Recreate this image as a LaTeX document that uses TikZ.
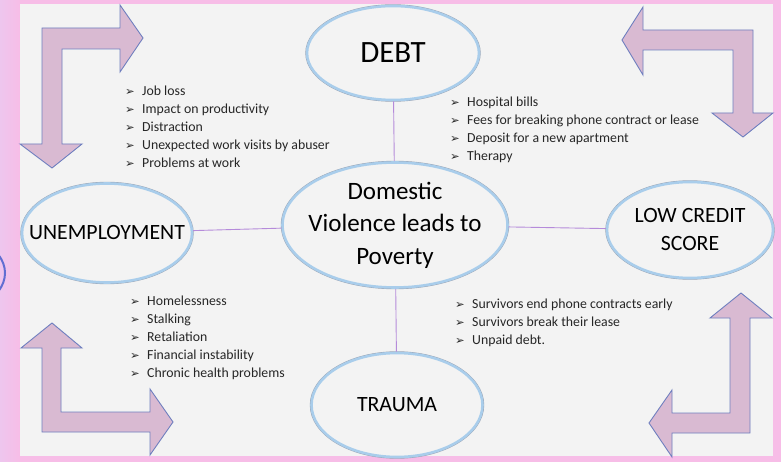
\documentclass[tikz,border=0pt]{standalone}
\usepackage{fontspec}
\setmainfont{Carlito}
\newfontfamily\dvfont{DejaVu Sans}
\usetikzlibrary{shapes.geometric}
\definecolor{bgpink}{HTML}{F7BDE7}
\definecolor{bglilac}{HTML}{EEC6EE}
\definecolor{panelgray}{HTML}{F3F3F3}
\definecolor{ringblue}{HTML}{A9CDEB}
\definecolor{ringedge}{HTML}{9AA4B4}
\definecolor{arrowfill}{HTML}{D9BAD2}
\definecolor{arrowline}{HTML}{6F7FBF}
\definecolor{linkpurple}{HTML}{B58BDA}
\tikzset{
  bubble/.style={ellipse, inner sep=0pt, fill=panelgray, draw=ringblue, line width=2.6pt,
    preaction={draw=ringedge, line width=3.4pt}},
  bigtxt/.style={font=\fontsize{21.8}{32}\selectfont, align=center, inner sep=0pt, text=black},
  link/.style={draw=linkpurple, line width=0.9pt},
  bendarrow/.style={fill=arrowfill, draw=arrowline, line width=0.9pt, line join=miter},
  item/.style={anchor=base west, inner sep=0pt, font=\fontsize{13.8}{18}\selectfont, text=black!85},
}
\newcommand{\bul}{\makebox[17pt][l]{\dvfont\fontsize{11.5}{12}\selectfont ➢}}
\begin{document}
\begin{tikzpicture}[x=1pt,y=-1pt]
\useasboundingbox (0,0) rectangle (781,462);
% background
\fill[bgpink] (0,0) rectangle (781,462);
\shade[left color=bglilac, right color=bgpink] (0,0) rectangle (20,462);
\draw[ringblue!50!blue!70!gray, line width=2pt] (-75,273) ellipse [x radius=80, y radius=46];
\fill[panelgray] (20,4) rectangle (773,456);

% bent arrows
\draw[bendarrow] (42,28) -- (120,28) -- (120,5) -- (143,38) -- (120,72) -- (120,49) -- (62,49) -- (62,144) -- (82,144) -- (52,168) -- (20,144) -- (42,144) -- cycle;
\draw[bendarrow] (753,30) -- (643,30) -- (643,7) -- (622,40) -- (643,75) -- (643,50) -- (733,50) -- (733,113) -- (712,113) -- (743,137) -- (773,113) -- (753,113) -- cycle;
\draw[bendarrow] (42,432) -- (150,432) -- (150,455) -- (173,422) -- (150,389) -- (150,412) -- (61,412) -- (61,348) -- (82,348) -- (52,323) -- (21,348) -- (42,348) -- cycle;
\draw[bendarrow] (750,433) -- (672,433) -- (672,457) -- (649,423) -- (672,390) -- (672,413) -- (730,413) -- (730,318) -- (710,318) -- (741,293) -- (772,318) -- (750,318) -- cycle;

% ellipses
\node[bubble, minimum width=172pt, minimum height=94pt] (debt) at (393,53) {};
\node[bubble, minimum width=225pt, minimum height=125pt] (dv) at (395,225) {};
\node[bubble, minimum width=170pt, minimum height=99pt] (unemp) at (107,233) {};
\node[bubble, minimum width=166pt, minimum height=96pt] (credit) at (690,230) {};
\node[bubble, minimum width=171pt, minimum height=104pt] (trauma) at (397,405) {};

% connectors
\draw[link] (debt) -- (dv);
\draw[link] (unemp) -- (dv);
\draw[link] (dv) -- (credit);
\draw[link] (dv) -- (trauma);

% labels
\node[bigtxt, font=\fontsize{31}{32}\selectfont] (debtT) at (debt.center) {DEBT};
\node[bigtxt, font=\fontsize{25}{32.5}\selectfont] (dvT) at (dv.center) {Domestic\\Violence leads to\\Poverty};
\node[bigtxt] (unempT) at (unemp.center) {UNEMPLOYMENT};
\node[bigtxt, font=\fontsize{21.8}{28}\selectfont] (creditT) at (credit.center) {LOW CREDIT\\SCORE};
\node[bigtxt] (traumaT) at (trauma.center) {TRAUMA};

% bullet lists
\foreach \t [count=\i] in {Job loss, Impact on productivity, Distraction, Unexpected work visits by abuser, Problems at work}
  \node[item] (la\i) at (125, {96+18*(\i-1)}) {\bul\t};
\foreach \t [count=\i] in {Hospital bills, Fees for breaking phone contract or lease, Deposit for a new apartment, Therapy}
  \node[item] (lb\i) at (450, {107+18*(\i-1)}) {\bul\t};
\foreach \t [count=\i] in {Homelessness, Stalking, Retaliation, Financial instability, Chronic health problems}
  \node[item] (lc\i) at (130, {305+18*(\i-1)}) {\bul\t};
\foreach \t [count=\i] in {Survivors end phone contracts early, Survivors break their lease, Unpaid debt.}
  \node[item] (ld\i) at (455, {308+18*(\i-1)}) {\bul\t};
\end{tikzpicture}
\end{document}
